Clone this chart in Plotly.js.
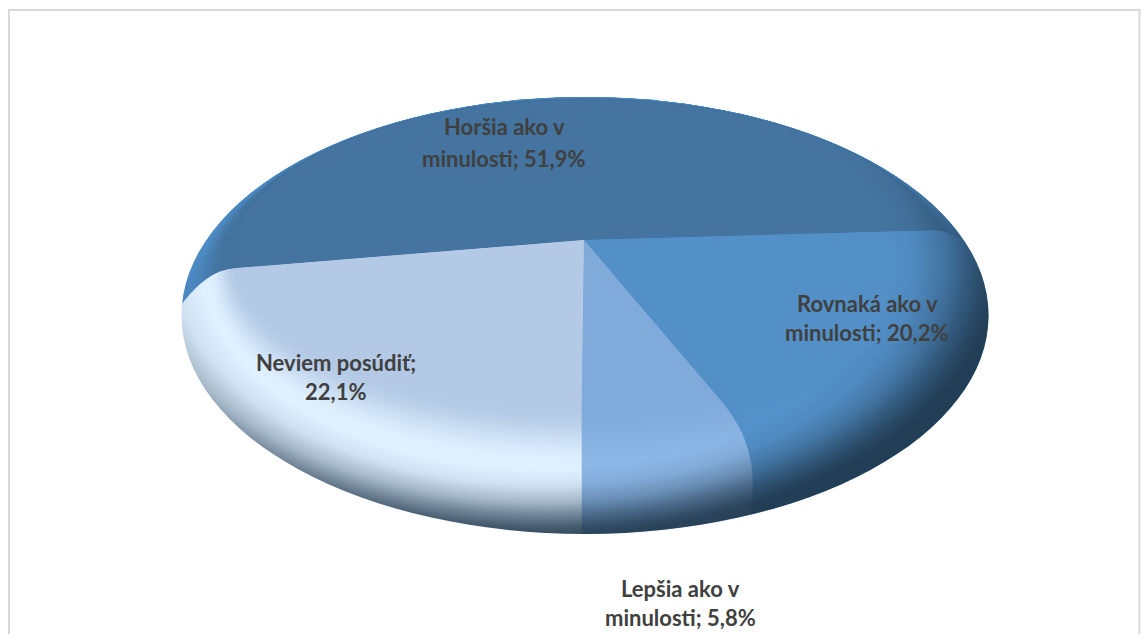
<!DOCTYPE html>
<html>
<head>
<meta charset="utf-8">
<script src="https://cdn.plot.ly/plotly-3.0.1.min.js"></script>
<style>html,body{margin:0;padding:0;background:#fff}#chart{width:1148px;height:634px}</style>
</head>
<body>
<div id="chart"></div>
<script>
// Survey shares, clockwise from the back of the disc
const categories = ['Horšia ako v minulosti', 'Rovnaká ako v minulosti', 'Lepšia ako v minulosti', 'Neviem posúdiť'];
const shares = [51.9, 20.2, 5.8, 22.1];

// Data labels, one entry per printed line: text and pixel anchor
const labelLines = [
  ['Horšia ako v', 504, 127], ['minulosti; 51,9%', 504, 158],
  ['Rovnaká ako v', 867, 303], ['minulosti; 20,2%', 867, 332],
  ['Lepšia ako v', 680, 588], ['minulosti; 5,8%', 680, 617],
  ['Neviem posúdiť;', 336, 362], ['22,1%', 335, 391]
];

// Slice colours on the flat top and where the bevel is brightest
const topColors = ['#44749f', '#5390c8', '#80aad9', '#b4c9e5'];
const rimColors = ['#4f8cc6', '#5492cb', '#8cb6e6', '#dff0ff'];

const W = 1148, H = 634, LAYERS = 64;

function lerp(a, b, t) { return a + (b - a) * t; }
function mixHex(a, b, t) {
  const p = h => [1, 3, 5].map(i => parseInt(h.substr(i, 2), 16));
  const A = p(a), B = p(b);
  return 'rgb(' + A.map((v, i) => Math.round(lerp(v, B[i], t))).join(',') + ')';
}
function smooth(t) { const u = Math.min(1, Math.max(0, t)); return u * u * (3 - 2 * u); }

// The disc is a stack of pies: outermost bevel first, flat top last.
// Each one has its own tilt and is cut to its own ellipse, which bends the slice edges over the rim.
function layerGeometry(i) {
  const t = 1 - i / (LAYERS - 1);
  const q = t * t;
  const g = {
    t,
    cy: lerp(240, 255.7, q),
    sy: lerp(0.44, 0.593, q),
    skew: lerp(-0.0136, -0.15, q),
    ex: lerp(586, 585, t),
    ey: lerp(255, 315.5, t),
    rx: lerp(352, 403.5, t),
    ry: lerp(155, 218.5, t)
  };
  // keep the front edge of the slices on one vertical where it meets this ellipse
  g.cx = 581.5 + g.skew * (g.cy - (g.ey + g.ry));
  return g;
}

const startAngle = 180 + shares[3] / shares.reduce((a, b) => a + b, 0) * 360;

const traces = [];
for (let i = 0; i < LAYERS; i++) {
  const g = layerGeometry(i);
  const m = smooth(g.t / 0.46);
  traces.push({
    type: 'pie',
    labels: categories,
    values: shares,
    sort: false,
    direction: 'clockwise',
    rotation: startAngle,
    textinfo: 'none',
    hoverinfo: 'skip',
    showlegend: false,
    domain: {x: [0, 1], y: [0, 1]},
    marker: {
      colors: topColors.map((c, j) => mixHex(c, rimColors[j], j === 0 ? smooth((g.t - 0.2) / 0.8) : m)),
      line: {width: 0}
    }
  });
}

const annotations = labelLines.map(([text, x, y]) => ({
  text,
  xref: 'paper', yref: 'paper',
  x: x / W, y: 1 - y / H,
  xanchor: 'center', yanchor: 'middle',
  showarrow: false,
  font: {family: 'Lato, "Open Sans", sans-serif', size: 22, color: '#404040', weight: 700}
}));

const layout = {
  width: W, height: H,
  margin: {l: 0, r: 0, t: 0, b: 0},
  paper_bgcolor: '#ffffff',
  annotations,
  shapes: [{
    type: 'rect', xref: 'paper', yref: 'paper',
    x0: 9 / W, x1: 1139.5 / W, y0: -0.02, y1: 1 - 10 / H,
    line: {color: '#d9d9d9', width: 2}
  }]
};

Plotly.newPlot('chart', traces, layout, {displayModeBar: false, staticPlot: true}).then(gd => {
  const NS = 'http://www.w3.org/2000/svg';
  const svg = gd.querySelector('svg.main-svg');
  const defs = svg.querySelector('defs');
  const make = (tag, attrs, parent) => {
    const el = document.createElementNS(NS, tag);
    Object.keys(attrs).forEach(k => el.setAttribute(k, attrs[k]));
    if (parent) parent.appendChild(el);
    return el;
  };

  const layer = gd.querySelector('.pielayer');
  const groups = Array.from(layer.querySelectorAll('g.trace'));
  groups.forEach((grp, i) => {
    const g = layerGeometry(i);
    const c = gd.calcdata[i][0];
    const S = 4;
    const clip = make('clipPath', {id: 'disc-cut-' + i}, defs);
    make('ellipse', {cx: g.ex, cy: g.ey, rx: g.rx, ry: g.ry}, clip);
    const holder = make('g', {'clip-path': 'url(#disc-cut-' + i + ')'});
    layer.insertBefore(holder, grp);
    holder.appendChild(grp);
    grp.setAttribute('transform',
      'translate(' + g.cx + ',' + g.cy + ') ' +
      'matrix(' + S + ',0,' + (g.skew * S * g.sy) + ',' + (S * g.sy) + ',0,0) ' +
      'translate(' + (-c.cx) + ',' + (-c.cy) + ')');
  });

  // Shadow falling off the lower right of the rim
  const shade = make('radialGradient', {
    id: 'disc-shade', gradientUnits: 'userSpaceOnUse', cx: 0, cy: 0, r: 1,
    gradientTransform: 'translate(545,262) scale(453,273)'
  }, defs);
  [[0.76, 0], [0.82, 0.08], [0.88, 0.30], [0.93, 0.58], [0.97, 0.78], [1, 0.88]].forEach(([o, a]) =>
    make('stop', {offset: o, 'stop-color': '#1c3347', 'stop-opacity': a}, shade));
  make('ellipse', {cx: 585, cy: 315.5, rx: 403.5, ry: 218.5, fill: 'url(#disc-shade)'}, layer);
});
</script>
</body>
</html>
